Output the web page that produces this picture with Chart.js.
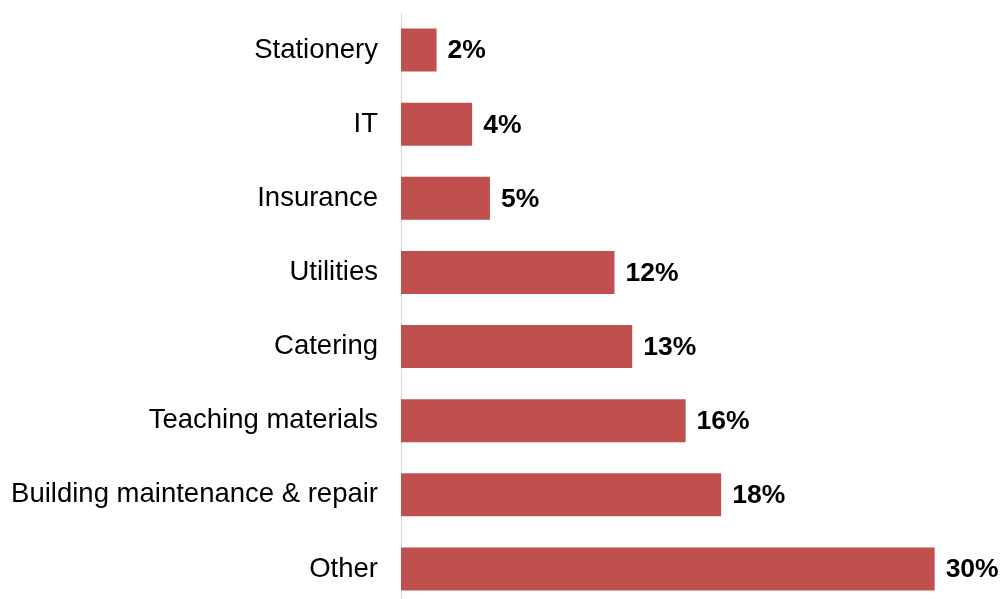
<!DOCTYPE html>
<html>
<head>
<meta charset="utf-8">
<script src="https://cdn.jsdelivr.net/npm/chart.js@4"></script>
<style>
  html, body { margin: 0; padding: 0; background: #fff; overflow: hidden; }
  #wrap { width: 1003px; height: 610px; position: relative; }
</style>
</head>
<body>
<div id="wrap"><canvas id="spendChart"></canvas></div>
<script>
/* Share of non-staff spending by category (%) */
const categories = [
  'Stationery',
  'IT',
  'Insurance',
  'Utilities',
  'Catering',
  'Teaching materials',
  'Building maintenance & repair',
  'Other'
];
const shares = [2, 4, 5, 12, 13, 16, 18, 30];

const BAR_RED = '#C0504D';
const FONT = "Arial, 'Liberation Sans', Helvetica, sans-serif";

// percentage labels just past the end of each bar
const valueLabels = {
  id: 'valueLabels',
  afterDatasetsDraw(chart) {
    const { ctx } = chart;
    const meta = chart.getDatasetMeta(0);
    ctx.save();
    ctx.font = 'bold 26.5px ' + FONT;
    ctx.fillStyle = '#000';
    ctx.textAlign = 'left';
    ctx.textBaseline = 'middle';
    meta.data.forEach((bar, i) => {
      ctx.fillText(shares[i] + '%', bar.x + 11, bar.y + 1);
    });
    ctx.restore();
  }
};

new Chart(document.getElementById('spendChart'), {
  type: 'bar',
  data: {
    labels: categories,
    datasets: [{
      data: shares,
      backgroundColor: BAR_RED,
      borderWidth: 0,
      barPercentage: 0.58,
      categoryPercentage: 1
    }]
  },
  options: {
    indexAxis: 'y',
    responsive: true,
    maintainAspectRatio: false,
    animation: false,
    layout: { padding: { top: 13, bottom: 4, left: 0, right: 15 } },
    plugins: {
      legend: { display: false },
      tooltip: { enabled: false }
    },
    scales: {
      x: {
        display: false,
        min: 0,
        max: 33
      },
      y: {
        z: 1,
        grid: { display: false, drawTicks: false },
        border: { display: true, color: '#d9d9d9', width: 1 },
        ticks: {
          color: '#000',
          padding: 23,
          font: { family: FONT, size: 27.5 }
        },
        afterFit(scale) {
          // fixed label column; the plot runs the full height
          scale.width = 401;
          scale.paddingTop = 0;
          scale.paddingBottom = 0;
        }
      }
    }
  },
  plugins: [valueLabels]
});
</script>
</body>
</html>
